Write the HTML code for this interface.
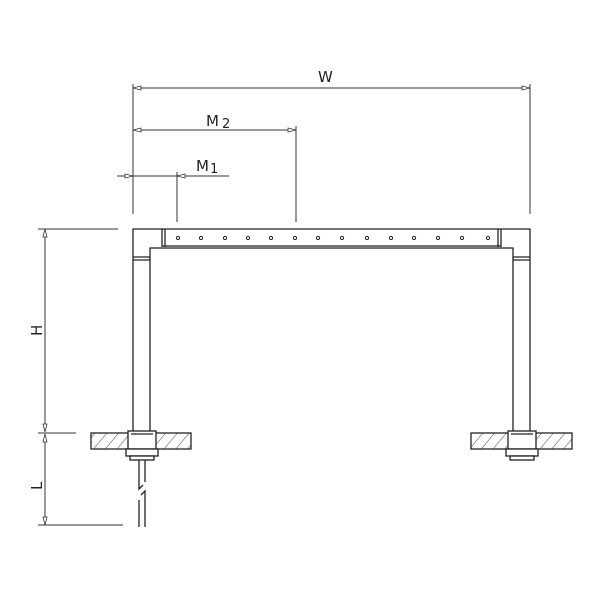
<!DOCTYPE html>
<html><head><style>html,body{margin:0;padding:0;background:#fff}svg{display:block}</style></head>
<body>
<svg width="600" height="600" viewBox="0 0 600 600" xmlns="http://www.w3.org/2000/svg">
<defs>
<pattern id="h" width="9" height="9" patternUnits="userSpaceOnUse" patternTransform="rotate(40)">
<line x1="0" y1="0" x2="0" y2="9" stroke="#333" stroke-width="0.9"/>
</pattern>
</defs>
<g stroke="#333" stroke-width="1" fill="none">
<line x1="133" y1="84" x2="133" y2="214"/>
<line x1="530" y1="84" x2="530" y2="214"/>
<line x1="296" y1="126" x2="296" y2="222"/>
<line x1="177" y1="172" x2="177" y2="222"/>
<line x1="38" y1="229" x2="118" y2="229"/>
<line x1="38" y1="433" x2="76" y2="433"/>
<line x1="38" y1="525" x2="123" y2="525"/>
<line x1="133" y1="88" x2="530" y2="88"/>
<line x1="133" y1="130" x2="296" y2="130"/>
<line x1="117" y1="176" x2="229" y2="176"/>
<line x1="45" y1="229" x2="45" y2="432"/>
<line x1="45" y1="434" x2="45" y2="525"/>
</g>
<g stroke="#333" stroke-width="0.8" fill="#fff">
<polygon points="133,88 141,86 141,90"/>
<polygon points="530,88 522,86 522,90"/>
<polygon points="133,130 141,128 141,132"/>
<polygon points="296,130 288,128 288,132"/>
<polygon points="133,176 125,174 125,178"/>
<polygon points="177,176 185,174 185,178"/>
<polygon points="45,229 43,237 47,237"/>
<polygon points="45,432 43,424 47,424"/>
<polygon points="45,434 43,442 47,442"/>
<polygon points="45,525 43,517 47,517"/>
</g>
<g font-family="'DejaVu Sans','Liberation Sans',sans-serif" fill="#222" font-size="15">
<text x="318" y="82">W</text>
<text x="206" y="126">M<tspan font-size="13" dx="3" dy="2">2</tspan></text>
<text x="196" y="171">M<tspan font-size="13" dx="1" dy="2">1</tspan></text>
<text transform="translate(42,336) rotate(-90)">H</text>
<text transform="translate(42,490) rotate(-90)">L</text>
</g>
<g stroke="#222" stroke-width="1.3" fill="none">
<path d="M133,433 V229 H530 V433"/>
<path d="M150,433 V248 H513 V433"/>
<line x1="162" y1="229" x2="162" y2="247"/>
<line x1="165" y1="229" x2="165" y2="247"/>
<line x1="498" y1="229" x2="498" y2="247"/>
<line x1="501" y1="229" x2="501" y2="247"/>
<line x1="162" y1="246" x2="501" y2="246"/>
<line x1="133" y1="257" x2="150" y2="257"/>
<line x1="133" y1="260" x2="150" y2="260"/>
<line x1="513" y1="257" x2="530" y2="257"/>
<line x1="513" y1="260" x2="530" y2="260"/>
</g>
<g stroke="#222" stroke-width="1" fill="#fff">
<circle cx="178" cy="238" r="1.6"/><circle cx="201" cy="238" r="1.6"/><circle cx="225" cy="238" r="1.6"/>
<circle cx="248" cy="238" r="1.6"/><circle cx="271" cy="238" r="1.6"/><circle cx="295" cy="238" r="1.6"/>
<circle cx="318" cy="238" r="1.6"/><circle cx="342" cy="238" r="1.6"/><circle cx="367" cy="238" r="1.6"/>
<circle cx="391" cy="238" r="1.6"/><circle cx="414" cy="238" r="1.6"/><circle cx="438" cy="238" r="1.6"/>
<circle cx="462" cy="238" r="1.6"/><circle cx="488" cy="238" r="1.6"/>
</g>
<g stroke="#222" stroke-width="1.3">
<rect x="91" y="433" width="100" height="16" fill="url(#h)"/>
<rect x="128" y="431" width="28" height="18" fill="#fff"/>
<line x1="131" y1="434" x2="153" y2="434"/>
<rect x="126" y="449" width="32" height="7" fill="#fff"/>
<rect x="130" y="456" width="24" height="4" fill="#fff"/>
<rect x="471" y="433" width="101" height="16" fill="url(#h)"/>
<rect x="508" y="431" width="28" height="18" fill="#fff"/>
<line x1="511" y1="434" x2="533" y2="434"/>
<rect x="506" y="449" width="32" height="7" fill="#fff"/>
<rect x="510" y="456" width="24" height="4" fill="#fff"/>
</g>
<g stroke="#222" stroke-width="1.3" fill="none">
<path d="M139,460 V489 L143,485"/>
<path d="M145,460 V482"/>
<path d="M139,527 V500"/>
<path d="M145,527 V491 L141,495"/>
</g>
</svg>
</body></html>
